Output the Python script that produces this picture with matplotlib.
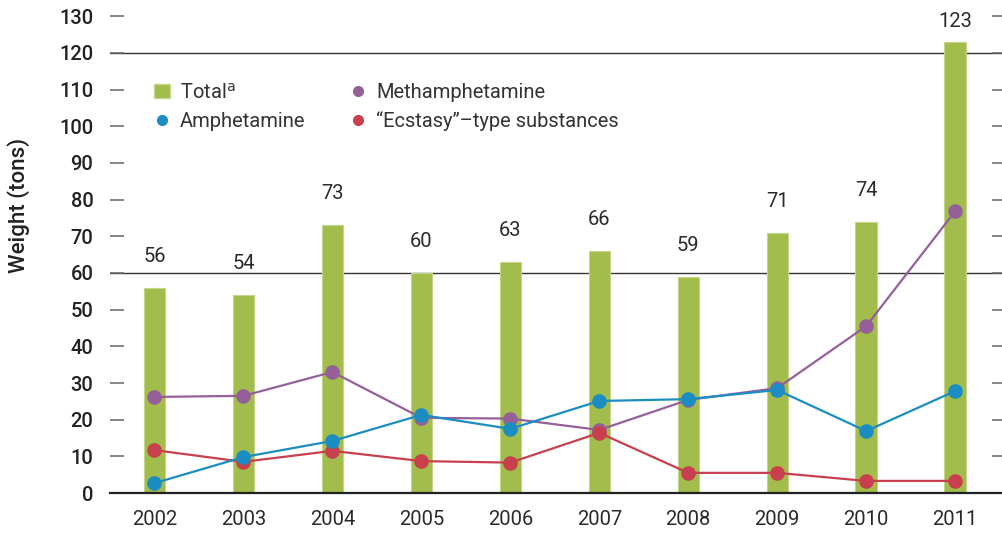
import matplotlib.pyplot as plt
import numpy as np
from matplotlib.lines import Line2D
from matplotlib.patches import Patch

plt.rcParams['font.family'] = ['Roboto', 'DejaVu Sans']

years = ['2002', '2003', '2004', '2005', '2006', '2007', '2008', '2009', '2010', '2011']
total = [56, 54, 73, 60, 63, 66, 59, 71, 74, 123]
metham = [26.2, 26.5, 33.0, 20.5, 20.3, 17.2, 25.4, 28.6, 45.5, 76.8]
amphet = [2.7, 9.8, 14.2, 21.3, 17.5, 25.1, 25.6, 28.1, 16.9, 27.8]
ecstasy = [11.7, 8.5, 11.5, 8.7, 8.3, 16.4, 5.5, 5.5, 3.3, 3.3]

c_bar = '#a2bd4b'
c_meth = '#955f9a'
c_amph = '#1b8dc2'
c_ecst = '#c83f4e'

fig = plt.figure(figsize=(10.02, 5.39), dpi=100)
ax = fig.add_axes([0.1098, 0.0853, 0.894, 0.8845])

x = np.arange(len(years))
ax.bar(x, total, width=0.24, color=c_bar, edgecolor='#c3d68a', linewidth=0.8, zorder=2)
for xi, v in zip(x, total):
    off = 3.0 if v > 120 else 6.0
    ax.text(xi, v + off, str(v), ha='center', va='bottom', fontsize=14.5,
            color='#2a2a2a')

ax.plot(x, ecstasy, color=c_ecst, lw=1.6, marker='o', ms=9.5, zorder=4)
ax.plot(x, metham, color=c_meth, lw=1.6, marker='o', ms=9.5, zorder=3)
ax.plot(x, amphet, color=c_amph, lw=1.6, marker='o', ms=9.5, zorder=5)

for level in (60, 120):
    ax.axhline(level, color='#333333', lw=1.0, zorder=1)

ax.set_xlim(-0.5, 9.57)
ax.set_ylim(0, 130)
ax.set_yticks(np.arange(0, 131, 10))
ax.set_xticks(x)
ax.set_xticklabels(years)

for s in ('left', 'right', 'top'):
    ax.spines[s].set_visible(False)
ax.spines['bottom'].set_color('#222222')
ax.spines['bottom'].set_linewidth(1.6)

ax.tick_params(axis='y', which='both', direction='in', length=10, width=1.1,
               color='#666666', left=True, right=True, pad=12,
               labelsize=14.5, labelcolor='#222222')
for lab in ax.get_yticklabels():
    lab.set_fontweight('medium')
ax.tick_params(axis='x', length=0, pad=12, labelsize=14.5, labelcolor='#2a2a2a')

ax.set_ylabel('Weight (tons)', fontsize=16, fontweight='medium', color='#222222')
ax.yaxis.set_label_coords(-0.089, 0.604)

handles = [
    Patch(facecolor=c_bar, edgecolor='#c3d68a'),
    Line2D([], [], ls='none', marker='o', ms=7, color=c_amph),
    Line2D([], [], ls='none', marker='o', ms=7, color=c_meth),
    Line2D([], [], ls='none', marker='o', ms=7, color=c_ecst),
]
labels = ['Total$^{\\mathrm{a}}$', 'Amphetamine', 'Methamphetamine',
          '\u201cEcstasy\u201d\u2013type substances']
leg = ax.legend(handles, labels, ncol=2, loc='upper left',
                bbox_to_anchor=(0.04, 0.878), frameon=False, fontsize=14.5,
                handlelength=0.8, handletextpad=0.5, columnspacing=2.2,
                labelspacing=0.45, borderaxespad=0)
for t in leg.get_texts():
    t.set_color('#333333')

fig.savefig('out.png', dpi=100)
